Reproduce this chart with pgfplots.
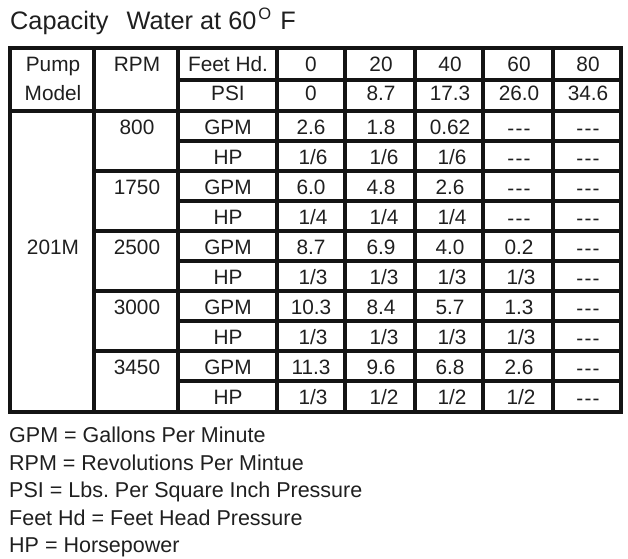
\documentclass[border=0pt]{standalone}
\usepackage{fontspec}
\setmainfont{Liberation Sans}
\usepackage{pgfplots}
\pgfplotsset{compat=1.18}
\frenchspacing

\newcommand\nd{\raisebox{-1.5bp}{-\kern1.2bp-\kern1.2bp-}}
\newcommand\cellfont{\fontsize{20.8bp}{24bp}\selectfont}
\newcommand\notefont{\fontsize{21.5bp}{26bp}\selectfont}
\newcommand\titlefont{\fontsize{25.3bp}{30bp}\selectfont}
\newcommand\titletext{Capacity\hspace{18bp}Water at 60\kern2bp\raisebox{10bp}{\fontsize{16.5bp}{20bp}\selectfont O}\hspace{9bp}F}

\pgfplotsset{
  rule/.style={draw=black!92, solid, line width=3.4bp, mark=none, forget plot},
  txt/.style={draw=none, mark=none, forget plot, nodes near coords,
    point meta=explicit symbolic,
    nodes near coords align={anchor=base},
    every node near coord/.append style={inner sep=0pt, text=black!88, #1}},
}

\begin{document}
\begin{tikzpicture}
\begin{axis}[
  axis lines=none, ticks=none,
  scale only axis,
  width=628bp, height=559bp,
  xmin=0, xmax=628, ymin=0, ymax=559,
  y dir=reverse, clip=false,
  unbounded coords=jump,
]
% table frame
\addplot[rule] coordinates {
  (10,48) (621,48) (621,412) (10,412) (10,48) (621,48)
};
% inner rules
\addplot[rule] table {
x y
10 111
621 111
nan nan
178 80
621 80
nan nan
178 141
621 141
nan nan
178 201
621 201
nan nan
178 261
621 261
nan nan
178 321
621 321
nan nan
178 381
621 381
nan nan
94 171
621 171
nan nan
94 231
621 231
nan nan
94 291
621 291
nan nan
94 351
621 351
nan nan
94 48
94 412
nan nan
178 48
178 412
nan nan
277 48
277 412
nan nan
345 48
345 412
nan nan
415 48
415 412
nan nan
483 48
483 412
nan nan
553 48
553 412
};

% cell texts
\addplot[txt={font=\cellfont}] table[col sep=comma, meta=t] {
x,y,t
53,72,Pump
137,72,RPM
228,72,Feet Hd.
311,72,0
381,72,20
450,72,40
519,72,60
588,72,80
53,101,Model
228,101,PSI
311,101,0
381,101,8.7
450,101,17.3
519,101,26.0
588,101,34.6
53,254,201M
137,134,800
137,194,1750
137,254,2500
137,314,3000
137,374,3450
228,134,GPM
228,164,HP
228,194,GPM
228,224,HP
228,254,GPM
228,284,HP
228,314,GPM
228,344,HP
228,374,GPM
228,404,HP
311,134,2.6
381,134,1.8
450,134,0.62
519,134,\nd
588,134,\nd
313,164,1/6
384,164,1/6
452,164,1/6
519,164,\nd
588,164,\nd
311,194,6.0
381,194,4.8
450,194,2.6
519,194,\nd
588,194,\nd
313,224,1/4
384,224,1/4
452,224,1/4
519,224,\nd
588,224,\nd
311,254,8.7
381,254,6.9
450,254,4.0
519,254,0.2
588,254,\nd
313,284,1/3
384,284,1/3
452,284,1/3
521,284,1/3
588,284,\nd
311,314,10.3
381,314,8.4
450,314,5.7
519,314,1.3
588,314,\nd
313,344,1/3
384,344,1/3
452,344,1/3
521,344,1/3
588,344,\nd
311,374,11.3
381,374,9.6
450,374,6.8
519,374,2.6
588,374,\nd
313,404,1/3
384,404,1/2
452,404,1/2
521,404,1/2
588,404,\nd
};

% title
\addplot[txt={font=\titlefont, anchor=base west}] coordinates {
  (10,30) [\titletext]
};

% notes
\addplot[txt={font=\notefont, anchor=base west}] table[col sep=comma, meta=t] {
x,y,t
9,442,GPM = Gallons Per Minute
9,470,RPM = Revolutions Per Mintue
9,497,PSI = Lbs. Per Square Inch Pressure
9,525,Feet Hd = Feet Head Pressure
9,552,HP = Horsepower
};
\end{axis}
\pgfresetboundingbox
\useasboundingbox (current axis.south west) rectangle (current axis.north east);
\end{tikzpicture}
\end{document}
